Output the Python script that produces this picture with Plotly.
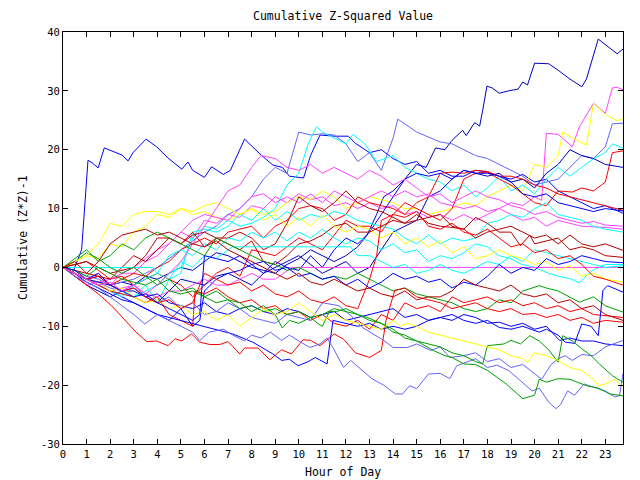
import plotly.graph_objects as go

# ---------------- data (hour, cumulative value) ----------------
navy_top = [(0,0),(0.5,-1),(1,-2),(1.5,-1.5),(2,-3),(2.5,-2.5),(3,-3),(3.5,-1.5),(4,-2),(4.5,-1),(5,0),(5.5,-0.5),(6,1),(6.5,2.5),(7,2),(7.5,1),(8,0),(8.5,-0.5),(9,-1),(9.5,0.5),(10,1.5),(10.5,3),(11,2),(11.5,1),(12,2),(12.5,3.5),(12.9,5.5),(13.3,9),(13.6,12),(14,13),(14.5,15),(15,17.5),(15.4,17),(15.8,20.3),(16.2,20),(16.5,21.6),(16.95,23.3),(17.1,22.4),(17.46,24.6),(17.67,24),(17.8,26.7),(17.98,30.8),(18.2,30.5),(18.5,29.6),(18.9,30),(19.3,30.3),(19.5,31.5),(19.7,31),(20.0,34.7),(20.6,34.6),(21,33.5),(21.5,32),(22.0,30.7),(22.2,32),(22.7,38.8),(23.1,37.5),(23.5,36.3),(23.75,37.1)]
blue_early = [(0,0),(0.4,-1),(0.79,3),(1.06,18.2),(1.23,17.8),(1.49,16.9),(1.75,20.3),(2.5,19.1),(2.76,18.1),(2.97,19.5),(3.52,21.8),(3.97,20.5),(4.45,18.6),(5.04,16.7),(5.3,17.9),(5.5,16.5),(6.0,15.3),(6.3,17.1),(6.8,15.8),(7.1,16.5),(7.7,21.8),(8.4,19.1),(8.9,17.4),(9.3,17.0),(9.6,15.5),(10.2,15.2),(10.5,19),(10.9,22.5),(11.5,22.3),(12.1,22.3),(12.4,21.1),(13,19.5),(13.5,20),(14,18.5),(14.5,17.5),(15,18),(15.5,16),(16,16.5),(16.5,15.5),(17,15.5),(17.5,16.5),(18,16.2),(18.5,15.5),(19,15),(19.5,15.8),(20,14.5),(20.5,15.0),(21,13),(21.5,12),(22,11),(22.5,10),(23,10.5),(23.75,9.2)]
magenta_top = [(0,0),(0.5,-1),(1,-2),(1.5,-1),(2,-3),(2.5,-1),(3,-1),(3.5,1),(4,2),(4.5,4),(5,6),(5.5,5),(6,8),(6.5,7.5),(7,9),(7.5,8.5),(8,10.5),(8.5,10),(9,12),(9.5,11),(10,12.5),(10.5,11.5),(11,12),(11.5,10.5),(12,11),(12.5,10),(13,11),(13.5,10),(14,10.5),(14.5,9),(15,9.5),(15.5,8.5),(16,9),(16.5,8),(17,9),(17.5,8),(18,9),(18.5,10),(19,11),(19.5,10.5),(20,12),(20.3,11.4),(20.5,22.8),(21,22.6),(21.3,21.5),(21.6,20.5),(21.9,23.9),(22.5,27.9),(23,26.2),(23.3,30.5),(23.5,30.6),(23.75,30.2)]
yellow_top = [(0,0),(0.5,1),(1,2),(1.5,1.5),(2,4),(2.5,3.5),(3,6),(3.5,7),(4,9),(4.5,8.5),(5,10),(5.5,9),(6,9.5),(6.5,8.5),(7,8),(7.5,9),(8,10),(8.5,9),(9,9.5),(9.5,11),(10,12),(10.5,11.5),(11,13),(11.5,12),(12,10),(12.5,11),(13,12),(13.5,11.5),(14,11),(14.5,10),(15,10),(15.5,9),(16,9.5),(16.5,10),(17,11),(17.5,10.5),(18,12),(18.5,13),(19,14),(19.5,13),(20,17.5),(20.5,17),(21,19),(21.2,23),(21.6,22),(22.2,20.8),(22.5,27.9),(23,26),(23.5,24.9),(23.75,25.4)]
lightblue_top = [(0,0),(0.5,-0.5),(1,-1.5),(1.5,-2),(2,-3),(2.5,-2.5),(3,-2),(3.5,-1),(4,0),(4.5,1.5),(5,3),(5.5,4.5),(6,6),(6.5,7),(7,9),(7.5,10),(8,12),(8.5,15),(9,17),(9.5,16),(10,23),(10.5,22.5),(11,22.7),(11.5,22.5),(12,21),(12.5,18),(13,19.5),(13.5,16.5),(14,22),(14.2,25.2),(15,23),(16,21.3),(16.5,21),(17,20),(17.5,19),(18,18.5),(18.5,17.5),(19,16.5),(19.5,15.5),(20,14),(20.5,14.5),(21,15),(21.5,17),(22,19),(22.5,18.5),(23,20.5),(23.3,24.4),(23.75,24.5)]
cyan_top = [(0,0),(0.5,-1),(1,-2),(1.5,-3),(2,-4),(2.5,-4.5),(3,-5),(3.5,-4),(4,-3),(4.5,-1),(5,0),(5.5,5),(6,7),(6.5,6.5),(7,8),(7.5,7),(8,7.5),(8.5,8.5),(9,10),(9.5,14),(10,16),(10.4,21),(10.75,23.9),(11,23),(11.5,22),(12,21),(12.3,22.6),(12.8,21),(13.3,18),(14,19),(14.5,17),(15,16),(15.5,15),(16,14.5),(16.5,13),(17,14),(17.5,12),(18,13.5),(18.5,15.5),(19,13),(19.5,14),(20,12.5),(20.5,15),(21,17),(21.5,15.5),(22,17),(22.5,18.5),(23,19.5),(23.3,21),(23.75,20.3)]
red_jump = [(0,0),(0.5,0.5),(1,1),(1.5,-0.5),(2,-2),(2.5,-1.5),(3,-3),(3.5,-2),(4,-1),(4.5,-2),(5,-3),(5.5,-5),(6,-3),(6.5,-1),(7,0),(7.5,-1.5),(8,3),(8.5,2.5),(9,2),(9.5,3.5),(10,5),(10.5,4),(11,3),(11.5,5.5),(12,8),(12.5,7),(13,7),(13.5,6),(14,9),(14.5,11),(15,10),(15.5,9),(16,8),(16.5,10),(17,15),(17.5,16),(18,16.2),(18.5,15),(19,14),(19.5,12.5),(20,11),(20.5,10.5),(21,13),(21.6,12.8),(22,13.5),(22.5,13),(23,14.5),(23.3,19.5),(23.75,19.8)]
navy_mid = [(0,0),(0.5,-1.5),(1,-3),(1.5,-4),(2,-5),(2.5,-4),(3,-4),(3.5,-5),(4,-6),(4.5,-4),(5,-2),(5.5,-2.5),(6,-3),(6.5,-1.5),(7,-1),(7.5,-2),(8,-3),(8.5,-1),(9,0),(9.5,1),(10,2),(10.5,0.5),(11,-1),(11.5,0),(12,1),(12.5,-1),(13,0),(13.5,3),(14,6),(14.5,7),(15,8),(15.5,12),(16,13),(16.5,15),(17,16.5),(17.5,16),(18,15.5),(18.5,16),(19,14.5),(19.5,15),(20,13.5),(20.5,16),(21,17.5),(21.5,20),(22,19),(22.5,18.5),(23,17.5),(23.75,17)]
red_mid = [(0,0),(0.5,-1),(1,-2),(1.5,-2.5),(2,-3),(2.5,-2),(3,-1),(3.5,-1.5),(4,0),(4.5,1),(5,3),(5.5,4),(6,5),(6.5,4),(7,6),(7.5,6.5),(8,7),(8.5,5),(9,7),(9.5,8),(10,10),(10.5,10.5),(11,10),(11.5,8),(12,9),(12.5,12),(13,11),(13.5,10.5),(14,10),(14.5,9),(15,11),(15.5,12),(16,16),(16.5,16.2),(17,16),(17.5,16.5),(18,16.3),(18.5,15.5),(19,15.5),(19.5,15),(20,14),(20.5,13.5),(21,12.5),(21.5,12),(22,11.5),(22.5,11),(23,10.5),(23.75,9.7)]
blue_mid = [(0,0),(0.5,-1),(1,-2),(1.5,-3),(2,-4),(2.5,-5),(3,-6),(3.5,-7),(4,-8),(4.5,-9),(5,-7),(5.5,-10),(5.8,-9),(6,-4),(6.5,-2),(7,-1),(7.5,-0.5),(8,0.5),(8.5,-1),(9,1),(9.5,0),(10,-0.5),(10.5,2),(11,0),(11.5,3),(12,5),(12.5,4),(13,6),(13.5,9),(14,12),(14.5,15),(15,16),(15.5,15.5),(16,16),(16.5,15),(17,16.5),(17.5,16),(18,16),(18.5,15.5),(19,14.5),(19.5,12.5),(20,12),(20.5,12.5),(21,11),(21.5,10.5),(22,10),(22.5,9.5),(23,10),(23.75,9.6)]
magenta_mid = [(0,0),(0.5,-1),(1,-3),(1.5,-2.5),(2,-2),(2.5,-1),(3,0),(3.5,1.5),(4,3),(4.5,4),(5,6),(5.5,8),(6,9),(6.5,8.5),(7,8),(7.5,10),(8,12),(8.5,12.5),(9,11),(9.5,12),(10,11),(10.5,12.5),(11,11),(11.5,13),(12,12),(12.5,11),(13,12),(13.5,13),(14,12),(14.5,13),(15,12),(15.5,12.5),(16,11),(16.5,10.5),(17,10),(17.5,10.5),(18,9.5),(18.5,10),(19,9),(19.5,8),(20,8.5),(20.5,7),(21,8),(21.5,7.5),(22,7),(23,6.8),(23.75,6.5)]
cyan_mid = [(0,0),(0.5,-1),(1,-2),(1.5,-3),(2,-4),(2.5,-4.5),(3,-5),(3.5,-3),(4,-6),(4.5,-2),(5,-1),(5.5,6),(6,6.5),(6.5,6),(7,7),(7.5,9),(8,8),(8.5,10),(9,8),(9.5,9.5),(10,8),(10.5,9),(11,8.5),(11.5,9.5),(12,9),(12.5,8),(13,7.5),(13.5,7),(14,6.5),(14.5,5),(15,4),(15.5,5.5),(16,4),(16.5,5),(17,4.5),(17.5,5),(18,7.5),(18.5,8),(19,9),(19.5,8.5),(20,10),(20.5,11),(21,9),(21.5,8.5),(22,8),(22.5,7),(23,6.5),(23.75,6)]
darkred_a = [(0,0),(0.5,0.5),(1,1),(1.5,0),(2,-1),(2.5,-0.5),(3,0),(3.5,2),(4,5),(4.5,5),(5,4),(5.5,5.5),(6,6),(6.5,5),(7,5),(7.5,6),(8,5),(8.5,3),(9,4),(9.5,7.5),(10,12),(10.5,10.5),(11,9.5),(11.5,11),(12,13),(12.5,11),(13,10),(13.5,9.5),(14,8.5),(14.5,7.5),(15,8),(15.5,8.5),(16,9),(16.5,7),(17,6.5),(17.5,5),(18,6),(18.5,6.5),(19,7),(19.5,6),(20,5),(20.5,5.5),(21,4),(21.5,5.5),(22,4),(22.5,3.5),(23,4),(23.75,2.9)]
darkred_b = [(0,0),(0.5,-0.5),(1,-1),(1.5,-1.5),(2,-2),(2.5,0),(3,2),(3.5,1),(4,3),(4.5,5),(5,4),(5.5,6),(6,3.5),(6.5,5),(7,4),(7.5,3),(8,4.5),(8.5,1),(9,0.5),(9.5,2),(10,4),(10.5,4.5),(11,5.5),(11.5,7),(12,7.5),(12.5,6),(13,6),(13.5,7),(14,8),(14.5,7.5),(15,9),(15.5,7.5),(16,7),(16.5,6.8),(17,6.5),(17.5,8.5),(18,7.5),(18.5,6),(19,6),(19.4,3.7),(19.8,5.5),(20,4),(20.5,4.5),(21,5),(21.5,3),(22,3.5),(22.5,3),(23,2),(23.75,1.7)]
cyan_dip = [(0,0),(0.5,-1),(1,-2),(1.5,-3),(2,-4),(2.5,-5),(3,-3),(3.5,-2),(4,-1),(4.5,2),(5,3),(5.5,2),(6,4),(6.5,3),(7,5),(7.5,4.5),(8,6),(8.5,5),(9,6),(9.5,4.5),(10,6),(10.5,5),(11,6.5),(11.5,5),(12,4),(12.5,5),(13,4.5),(13.5,3),(14,4),(14.5,2.5),(15,3),(15.5,1),(16,2),(16.5,1.5),(17,2.5),(17.5,4),(18,3.5),(18.5,2),(19,1.5),(19.4,0.6),(20,0),(20.6,-1),(21,-1.5),(21.5,-1.9),(21.9,-2.6),(22.3,-1),(22.6,-0.2),(23,0.5),(23.75,0.5)]
magenta_flat = [(0,0),(0.5,-1),(1,-2),(1.5,-3),(2,-4),(2.5,-3.5),(3,-3),(3.5,-4.5),(4,-5),(4.5,-4),(5,-4),(5.5,-3),(6,-2),(6.5,-3),(7,-3),(7.5,-2),(8,-1),(8.5,-2),(9,-2),(9.7,0),(23.75,0)]
cyan_flat = [(0,0),(3.8,0),(4,-1),(4.5,-2),(5,1),(5.5,0),(6,2),(6.5,1.5),(7,3),(7.2,3.5),(12.2,3.5),(12.5,2),(13,2),(13.5,1),(14,0),(14.5,0.5),(15,-1),(15.5,-0.5),(16,0.5),(16.5,-0.5),(17,-1),(17.5,0),(18,1),(18.5,0.5),(19,2),(19.5,1),(20,3),(20.5,2.5),(21,2),(21.5,1.5),(22,1),(22.5,0.5),(23,0),(23.75,0.3)]
green_a = [(0,0),(0.5,1.5),(1,3),(1.5,1),(2,2),(2.5,4),(3,3),(3.5,5),(4,6),(4.5,5),(5,4),(5.5,3),(6,2),(6.5,5),(7,4),(7.5,3),(8,2),(8.5,1),(9,0.5),(9.5,-0.5),(10,0),(10.5,-1),(11,-2),(11.5,-1.5),(12,-2),(12.5,-1),(13,-2),(13.5,-3),(14,-4),(14.5,-3.5),(15,-4.5),(15.5,-5),(16,-5.5),(16.5,-6),(17,-7),(17.5,-7.5),(18,-7),(18.5,-5.5),(19,-6),(19.5,-4),(20.2,-3.1),(20.5,-3.5),(21,-4),(21.5,-5),(21.9,-5.9),(22.5,-5),(23,-6.5),(23.75,-7.6)]
red_low = [(0,0),(0.5,-1.5),(1,-3),(1.5,-4.5),(2.06,-6.5),(2.63,-9),(3.1,-11),(3.55,-12.6),(3.97,-12.5),(4.46,-13.3),(4.75,-12.1),(5.03,-12.5),(5.45,-11.3),(5.8,-12.7),(6.23,-13.1),(6.65,-13.1),(7.0,-12.6),(7.5,-14.7),(7.7,-13.7),(8.28,-13.7),(8.77,-15.7),(9.27,-14),(9.69,-14.7),(10.18,-12.3),(10.5,-12.4),(10.9,-13.3),(11.5,-11.3),(11.9,-12.2),(12.4,-14.5),(13,-15.3),(13.5,-14.1),(13.7,-9),(14.07,-3.9),(14.5,-3.5),(15,-5),(15.5,-5.5),(16,-6),(16.5,-7),(17,-6.5),(17.5,-6),(18,-7),(18.5,-7.5),(19,-7),(19.5,-8),(20,-7.8),(20.5,-8.5),(21,-8),(21.5,-9),(22,-8.5),(22.5,-9.5),(23,-9),(23.75,-9.3)]
red_b = [(0,0),(0.5,-1),(1,-2),(1.5,-3),(2,-4),(2.5,-4.5),(3,-5),(3.5,-6),(4,-5),(4.5,-8),(5,-9),(5.5,-10),(5.6,-4),(6,-4.5),(6.5,-3.5),(7,-5),(7.5,-6),(8,-5.5),(8.5,-7),(9,-6.5),(9.5,-8),(10,-7.5),(10.5,-9),(11,-8),(11.5,-9.5),(12,-10),(12.5,-9),(13,-10.5),(13.5,-8),(14,-9),(14.5,-6),(15,-7),(15.5,-6.5),(16,-7.5),(16.5,-5),(17,-6),(17.5,-5.5),(18,-5),(18.5,-6),(19,-5.5),(19.5,-6.5),(20,-6),(20.5,-7),(21,-6.5),(21.5,-7.5),(22,-7),(22.5,-8),(23,-8.2),(23.75,-8.5)]
blue_jump = [(0,0),(0.5,-1),(1,-2),(1.5,-1),(2,-3),(2.5,-4),(3,-3.5),(3.5,-5),(4,-4.5),(4.5,-6),(5,-6.5),(5.5,-7),(6,-6),(6.5,-7.5),(7,-8),(7.5,-7),(8,-6.5),(8.5,-7.5),(9,-8),(9.5,-7),(10,-7.5),(10.5,-8.5),(11,-8),(11.5,-7.5),(12,-9),(12.5,-8.5),(13,-8),(13.5,-7.5),(14,-7),(14.5,-8.5),(15,-8),(15.5,-9),(16,-8.5),(16.5,-8),(17,-9),(17.5,-9.5),(18,-9),(18.5,-10.2),(19,-10.5),(19.5,-10),(20.2,-11),(20.5,-10.5),(21,-11.5),(21.3,-12.7),(21.7,-12.9),(22,-9.6),(22.4,-10),(22.7,-11.6),(22.9,-3.9),(23.1,-3.1),(23.75,-4.2)]
blue_diag = [(0,0),(0.5,-1),(1,-2.5),(1.5,-3.5),(2,-4.5),(2.5,-5.5),(3,-6),(3.5,-7),(4,-8),(4.5,-8.5),(5,-9),(5.5,-9.5),(6,-10),(6.5,-10.5),(7.2,-11.3),(8.05,-12.7),(8.9,-14.7),(9.27,-15.8),(9.6,-15.6),(9.97,-16.7),(10.4,-16),(10.7,-15.3),(10.9,-15.8),(11.2,-16.4),(11.45,-9),(12,-9.5),(12.5,-10),(13,-9.5),(13.5,-10.5),(14,-10),(14.5,-10.5),(15,-10),(15.5,-9),(16,-8.5),(16.5,-9),(17,-8),(17.5,-8.5),(18,-9.5),(18.5,-9.3),(19,-10),(19.5,-9.5),(20,-10.5),(20.5,-10),(21.06,-12.4),(21.5,-12),(22,-12.5),(22.5,-12.5),(23,-13),(23.75,-13.3)]
lightblue_low = [(0,0),(0.5,-1.5),(1,-2.5),(1.5,-3.5),(2,-5),(2.5,-6.5),(3,-8),(3.47,-9.6),(4,-8),(4.5,-9),(5,-10),(5.5,-11),(5.8,-12.4),(6.2,-11),(6.8,-10.5),(7.2,-11.5),(7.7,-12.5),(8,-11.5),(8.4,-12),(8.8,-11),(9.27,-12.4),(9.6,-11.5),(10,-12.5),(10.47,-13.6),(10.9,-13),(11.2,-12),(11.5,-14),(11.9,-17),(12.2,-15.8),(13.1,-18.9),(13.6,-20),(14.1,-21.5),(14.4,-21.5),(14.7,-20.1),(15,-20.6),(15.5,-18.1),(16,-18),(16.4,-18.9),(16.7,-16.7),(17.5,-15.5),(18,-17),(18.4,-16.6),(18.9,-17.5),(19.4,-19.3),(19.9,-21),(20.2,-20.5),(20.6,-22.9),(20.9,-24),(21.1,-23.3),(21.4,-21),(21.7,-21.7),(22.1,-19.8),(22.6,-20.5),(23,-21),(23.4,-22),(23.6,-21.8),(23.75,-18)]
lightblue_mid = [(0,0),(0.5,-1),(1,-2),(1.5,-2.5),(2,-3.5),(2.5,-4),(3,-3),(3.5,-5),(4,-6),(4.5,-5),(5,-7),(5.5,-6),(6,-8),(6.5,-7.5),(7,-6),(7.5,-7),(8,-8.5),(8.5,-9),(9,-9.5),(9.5,-8),(10,-8.5),(10.5,-9),(11,-6),(11.7,-6.5),(12.3,-8.5),(12.7,-10.2),(13.6,-12.4),(14,-13.6),(14.6,-13.6),(15,-13),(15.6,-14.1),(16,-13.5),(16.4,-15.3),(17,-15),(17.5,-14.5),(18,-16),(18.5,-15.5),(19,-17),(19.5,-16.5),(20,-18),(20.3,-19),(20.7,-16.5),(21,-15.5),(21.3,-15),(21.6,-15.8),(22,-14.8),(22.5,-15),(23,-13.5),(23.75,-12.4)]
green_low = [(0,0),(0.5,1),(1,2.5),(1.5,1.5),(2,0),(2.5,-1),(3,0),(3.5,-1.5),(4,-3),(4.5,-2),(5,-4),(5.5,-3.5),(6,-5),(6.5,-4),(7,-5.5),(7.5,-6),(8,-7.5),(8.5,-6.5),(9,-8),(9.3,-10.3),(9.6,-9),(10,-9.5),(10.5,-8.5),(10.8,-9.5),(11,-10),(11.3,-7.5),(11.6,-7.5),(12,-7),(12.5,-8),(12.9,-8.5),(13.5,-9.5),(14,-10.5),(14.5,-12),(15,-12.5),(15.7,-14.1),(16.2,-15),(16.5,-15.3),(17,-16.4),(17.5,-16.5),(18,-17.5),(18.8,-19.8),(19.5,-22.3),(20,-21.7),(20.2,-19),(20.5,-19.5),(21,-18.9),(21.5,-19),(22.2,-20.1),(22.7,-20.5),(23.2,-21.5),(23.75,-21.8)]
green_jump = [(0,0),(0.5,-0.5),(1,-1.5),(1.5,0),(2,-1),(2.5,-2),(3,-2.5),(3.5,-3),(4,-2),(4.5,-4),(5,-4.5),(5.5,-4),(6,-5),(6.5,-6),(7,-5.5),(7.5,-7),(8,-6.5),(8.5,-7.5),(9,-7),(9.5,-8),(10,-7.5),(10.5,-8.5),(11,-8),(11.5,-7),(12,-7.5),(12.5,-8),(13,-9),(13.5,-9.5),(14,-11),(14.5,-11.5),(15,-12.5),(15.5,-13),(16,-13.5),(16.5,-14.5),(17,-15),(17.5,-16),(17.8,-16.4),(18,-13.3),(18.7,-13),(19,-12.4),(19.4,-13),(19.8,-11.6),(20.2,-12.5),(20.6,-14),(21,-16.1),(21.2,-11.6),(21.6,-12.5),(22,-13.8),(22.4,-15),(22.75,-16.4),(23.3,-18.4),(23.75,-19.5)]
yellow_low = [(0,0),(0.5,-1),(1,-2),(1.5,-2.5),(2,-4),(2.5,-3.5),(3,-5),(3.5,-6),(4,-5.5),(4.5,-7),(5,-6.5),(5.5,-8),(6,-7.5),(6.5,-9),(7,-8),(7.5,-10),(8,-8.5),(8.5,-7),(9,-8),(9.5,-7.5),(10,-6),(10.5,-7.5),(11,-9),(11.5,-8),(12,-9),(12.5,-9.5),(13,-10),(13.5,-10.5),(14,-9),(14.3,-10),(14.6,-9.5),(15,-10),(15.5,-11),(16,-11.5),(16.5,-12),(17,-12.5),(17.5,-13),(18,-13.5),(18.5,-14),(19,-15),(19.5,-15.5),(19.7,-16.1),(20,-14.5),(20.5,-15),(21,-15.8),(21.5,-17),(22,-17.5),(22.5,-19),(22.7,-20.1),(23,-19.8),(23.4,-19),(23.75,-20.4)]
yellow_mid = [(0,0),(0.5,1),(1,2),(1.5,4),(2,7.5),(2.5,7),(3,9),(3.5,9.5),(4,9.5),(4.5,9),(5,10),(5.5,9.5),(6,10.5),(6.5,11),(7,10),(7.5,9),(8,10),(8.5,8),(9,9),(9.5,7),(10,8.5),(10.5,7),(11,9),(11.5,7),(12,6),(12.5,7),(13,6.5),(13.5,5),(14,6),(14.5,4),(15,5),(15.5,3.5),(16,4.5),(16.5,2.5),(17,3.5),(17.5,1.5),(18,2),(18.5,3),(19,2),(19.5,1.5),(20,0.5),(20.5,1),(21,-0.5),(21.5,0.3),(22,-1.5),(22.5,-1),(23,-2),(23.75,-2.5)]
red_c = [(0,0),(0.5,-1),(1,-2),(1.5,-1.5),(2,-3),(2.5,-4),(3,-3.5),(3.5,-5),(4,-6),(4.5,-5.5),(5,-7),(5.5,-6),(6,-1),(6.5,-2),(7,-3),(7.5,-2.5),(8,-4),(8.5,-3),(9,-4.5),(9.5,-5),(10,-4),(10.5,-5.5),(11,-6),(11.5,-5),(12,-6.5),(12.5,-7),(13,-2),(13.3,2),(13.5,8),(14,9),(14.5,8.5),(15,9.5),(15.5,7),(16,6.5),(16.5,7.5),(17,6),(17.5,5.5),(18,6.5),(18.5,5),(19,3.5),(19.5,4),(20,2.5),(20.5,3),(21,1.5),(21.5,2),(22,0.5),(22.5,-1.5),(23,-2),(23.75,-3)]
blue_c = [(0,0),(0.5,-0.5),(1,-2),(1.5,-2.5),(2,-3),(2.5,-4),(3,-5),(3.5,-4.5),(4,-6),(4.5,-7),(5,-8),(5.5,-9),(5.8,-8),(6,2),(6.5,1.5),(7,1),(7.5,2),(8,0.5),(8.5,1),(9,-0.5),(9.5,0),(10,-1.5),(10.5,-1),(11,-2),(11.5,-1.5),(12,-3),(12.5,-2),(13,-3.5),(13.5,-2.5),(14,-1),(14.5,-2),(15,-1.5),(15.5,-2.5),(16,-2),(16.5,-3.5),(17,-2.5),(17.5,-3),(18,-1.5),(18.5,0.5),(19,-1),(19.5,0),(20,-0.5),(20.5,1.5),(21,0.5),(21.5,1),(22,2),(22.5,1.5),(23,1),(23.75,0.8)]
magenta_c = [(0,0),(0.5,-1),(1,-2),(1.5,-3),(2,-2.5),(2.5,-4),(3,-3),(3.5,-4.5),(4,-3),(4.5,-1),(5,1),(5.5,4),(6,7),(6.5,10),(7,13),(7.5,14),(8,17),(8.4,19),(9,18.5),(9.5,17),(10,16.5),(10.5,17.5),(11,16),(11.5,17),(12,16),(12.5,15),(13,16.5),(13.5,15.5),(14,14),(14.5,15),(15,13.5),(15.5,12),(16,12.5),(16.5,11),(17,12),(17.5,13),(18,12),(18.5,11.5),(19,10.5),(19.5,10),(20,9),(20.5,9.5),(21,8.5),(21.5,8),(22,7.5),(22.5,7.8),(23,7.2),(23.75,7)]
darkred_c = [(0,0),(0.5,1),(1,-1),(1.5,1),(2,4),(2.5,5.5),(3,6),(3.5,6.5),(4,5.5),(4.5,6),(5,5),(5.5,4),(6,3.5),(6.5,4.5),(7,3),(7.5,2),(8,1),(8.5,0),(9,-1),(9.5,-2),(10,-1),(10.5,-2.5),(11,-3),(11.5,-2),(12,-3),(12.5,-4),(13,-3.5),(13.5,-4.5),(14,-5),(14.5,-4),(15,-5.5),(15.5,-5),(16,-5),(16.5,-4),(17,-2),(17.5,-3),(18,-3.5),(18.5,-4),(19,-3),(19.5,-4.5),(20,-5),(20.5,-4.5),(21,-6),(21.5,-5.5),(22,-7),(22.5,-6.5),(23,-8),(23.75,-9)]

series_names = ["navy_top","blue_early","magenta_top","yellow_top","lightblue_top","cyan_top","red_jump",
                "navy_mid","red_mid","blue_mid","magenta_mid","cyan_mid","darkred_a","darkred_b","cyan_dip",
                "magenta_flat","cyan_flat","green_a","red_low","red_b","blue_jump","blue_diag","lightblue_low",
                "lightblue_mid","green_low","green_jump","yellow_low","yellow_mid","red_c","blue_c","magenta_c","darkred_c"]
series_data = [navy_top, blue_early, magenta_top, yellow_top, lightblue_top, cyan_top, red_jump,
               navy_mid, red_mid, blue_mid, magenta_mid, cyan_mid, darkred_a, darkred_b, cyan_dip,
               magenta_flat, cyan_flat, green_a, red_low, red_b, blue_jump, blue_diag, lightblue_low,
               lightblue_mid, green_low, green_jump, yellow_low, yellow_mid, red_c, blue_c, magenta_c, darkred_c]

x_ticks = list(range(0, 24))
y_ticks = [-30, -20, -10, 0, 10, 20, 30, 40]

# ---------------- styles ----------------
palette = {
    "navy": "#0000c0", "blue": "#0000ff", "lightblue": "#6464ff", "red": "#ff0000",
    "darkred": "#b40000", "green": "#00a000", "yellow": "#ffff00", "magenta": "#ff44ff", "cyan": "#00ffff",
}

def color_of(name):
    return palette[name.split("_")[0]]

FONT = "DejaVu Sans Mono"

fig = go.Figure()
for name, pts in zip(series_names, series_data):
    fig.add_trace(go.Scatter(
        x=[p[0] for p in pts], y=[p[1] for p in pts], mode="lines",
        line=dict(color=color_of(name), width=1), showlegend=False, hoverinfo="skip"))

axis_common = dict(showgrid=False, zeroline=False, showline=True, linecolor="black", linewidth=1,
                   mirror="ticks", ticks="inside", ticklen=5, tickcolor="black", tickwidth=1,
                   tickfont=dict(family=FONT, size=10.5, color="black"))

fig.update_layout(
    width=640, height=480,
    margin=dict(l=63, r=17, t=32, b=36),
    paper_bgcolor="white", plot_bgcolor="white",
    xaxis=dict(range=[0, 23.75], tickvals=x_ticks, ticktext=[str(v) for v in x_ticks], **axis_common),
    yaxis=dict(range=[-30, 40], tickvals=y_ticks, ticktext=[str(v) for v in y_ticks], **axis_common),
    annotations=[
        dict(text="Cumulative Z-Squared Value", xref="paper", yref="paper", x=0.5, y=1.039,
             showarrow=False, font=dict(family=FONT, size=11.5, color="black"), xanchor="center", yanchor="middle"),
        dict(text="Hour of Day", xref="paper", yref="paper", x=0.5, y=-0.068,
             showarrow=False, font=dict(family=FONT, size=11.5, color="black"), xanchor="center", yanchor="middle"),
        dict(text="Cumulative (Z*Z)-1", xref="paper", yref="paper", x=-0.0714, y=0.5, textangle=-90,
             showarrow=False, font=dict(family=FONT, size=11.5, color="black"), xanchor="center", yanchor="middle"),
    ],
)

fig.write_html("out.html")
